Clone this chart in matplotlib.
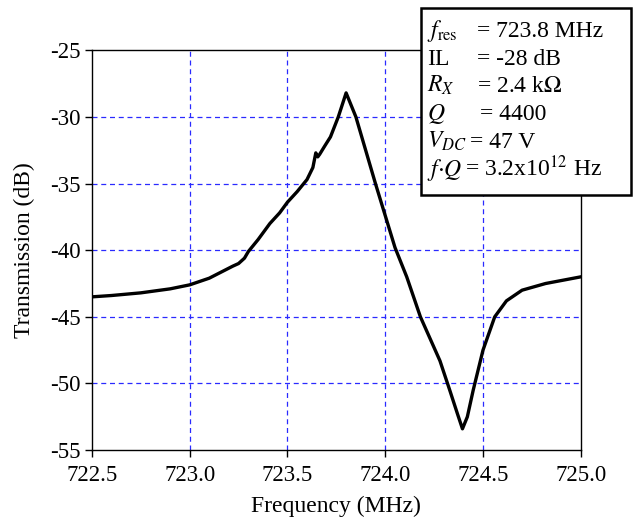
import numpy as np
import matplotlib.pyplot as plt

plt.rcParams['font.family'] = ['Liberation Serif', 'DejaVu Serif']
plt.rcParams['mathtext.fontset'] = 'stix'

# values
freq = [722.50, 722.60, 722.75, 722.90, 723.00, 723.10, 723.18, 723.22, 723.25,
        723.28, 723.30, 723.35, 723.41, 723.46, 723.50, 723.55, 723.60, 723.63,
        723.645, 723.655, 723.665, 723.69, 723.72, 723.76, 723.80, 723.85,
        723.95, 724.05, 724.11, 724.18, 724.28, 724.33, 724.37, 724.395, 724.42,
        724.45, 724.50, 724.56, 724.62, 724.70, 724.82, 725.00]
trans = [-43.5, -43.4, -43.2, -42.9, -42.6, -42.1, -41.5, -41.2, -41.0,
         -40.6, -40.1, -39.2, -38.0, -37.2, -36.4, -35.6, -34.7, -33.8,
         -32.7, -33.0, -32.8, -32.2, -31.5, -30.0, -28.2, -30.0,
         -35.0, -39.8, -42.0, -45.0, -48.3, -50.5, -52.3, -53.4, -52.5,
         -50.5, -47.5, -45.0, -43.8, -43.0, -42.5, -42.0]

xticks = [722.5, 723.0, 723.5, 724.0, 724.5, 725.0]
yticks = [-55, -50, -45, -40, -35, -30, -25]

fig = plt.figure(figsize=(6.34, 5.18), dpi=100)
ax = fig.add_axes([0.145, 0.131, 0.771, 0.772])

for x in xticks[1:-1]:
    ax.axvline(x, color='#2a2aff', lw=0.9, ls=(0, (4, 3)), zorder=1)
for y in yticks[1:-1]:
    ax.axhline(y, color='#2a2aff', lw=0.9, ls=(0, (4, 3)), zorder=1)

ax.plot(freq, trans, color='black', lw=2.4, zorder=3, solid_joinstyle='round')

ax.set_xlim(722.5, 725.0)
ax.set_ylim(-55, -25)
ax.set_xticks(xticks)
ax.set_xticklabels(['%.1f' % v for v in xticks])
ax.set_yticks(yticks)
ax.set_yticklabels(['%d' % v for v in yticks])
ax.tick_params(direction='out', length=5, width=1, labelsize=16.5)
ax.tick_params(axis='x', pad=6)
ax.tick_params(axis='y', pad=3)
for s in ax.spines.values():
    s.set_linewidth(1)
ax.set_xlabel('Frequency (MHz)', fontsize=17, labelpad=7)
ax.set_ylabel('Transmission (dB)', fontsize=17, labelpad=11)

# parameter box
fig.patches.append(plt.Rectangle((421 / 634, 1 - 195 / 518), 210 / 634, 187 / 518,
                                 transform=fig.transFigure, facecolor='white',
                                 edgecolor='black', lw=1.8, zorder=10))
labels = [r'$f_{\rm res}$', 'IL', r'$R_X$', r'$Q$', r'$V_{DC}$', r'$f{\cdot}Q$']
values = ['= 723.8 MHz', '= -28 dB', r'= 2.4 k$\Omega$', '= 4400', '= 47 V',
          r'= 3.2x10$^{12}$ Hz']
val_x = [477, 477, 477, 480, 470, 465]
base_y = [37, 65, 92, 120, 148, 176]
for lab, val, vx, by in zip(labels, values, val_x, base_y):
    fig.text(427 / 634, 1 - by / 518, lab, fontsize=17, va='baseline', zorder=11)
    fig.text(vx / 634, 1 - by / 518, val, fontsize=17, va='baseline', zorder=11)

fig.savefig('out.png', dpi=100)
